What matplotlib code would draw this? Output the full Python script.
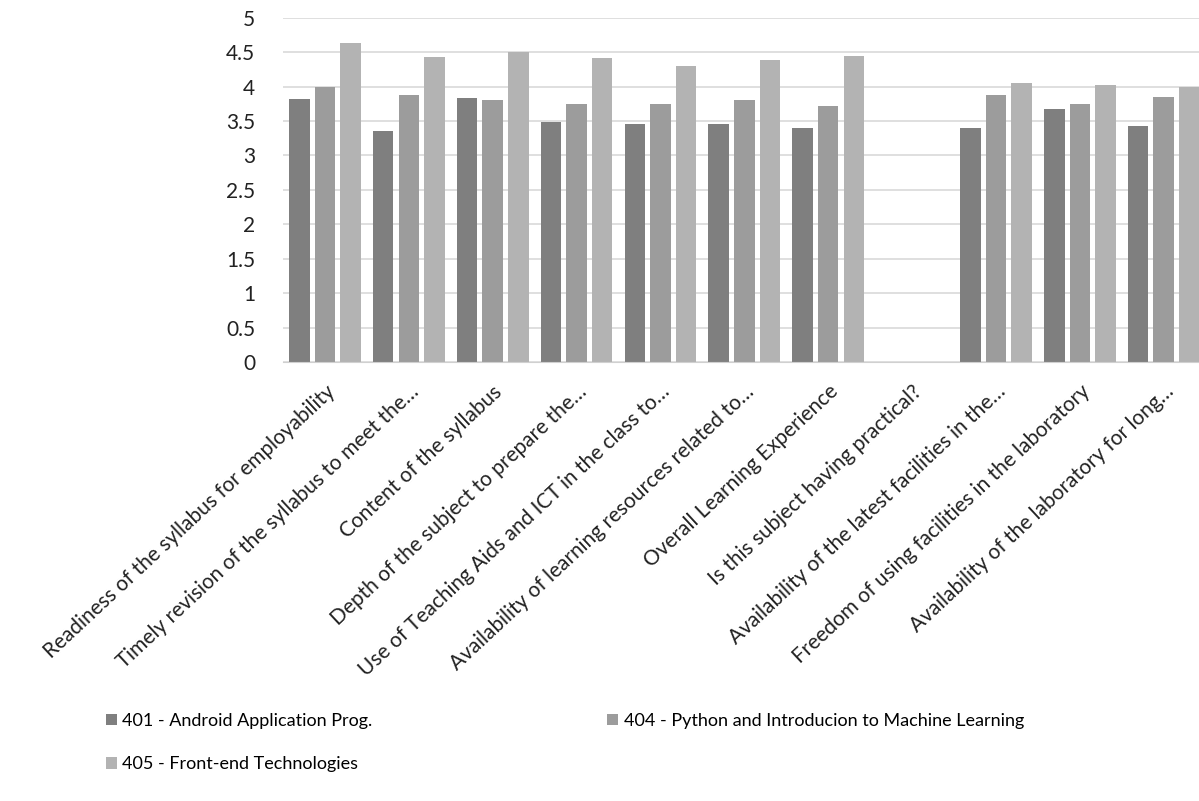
import numpy as np
import matplotlib.pyplot as plt

plt.rcParams['font.family'] = ['Lato', 'DejaVu Sans']

categories = [
    'Readiness of the syllabus for employability',
    'Timely revision of the syllabus to meet the…',
    'Content of the syllabus',
    'Depth of the subject to prepare the…',
    'Use of Teaching Aids and ICT in the class to…',
    'Availability of learning resources related to…',
    'Overall Learning Experience',
    'Is this subject having practical?',
    'Availability of the latest facilities in the…',
    'Freedom of using facilities in the laboratory',
    'Availability of the laboratory for long…',
]
series_names = [
    '401 - Android Application Prog.',
    '404 - Python and Introducion to Machine Learning',
    '405 - Front-end Technologies',
]
s401 = [3.82, 3.35, 3.84, 3.48, 3.45, 3.45, 3.40, 0, 3.40, 3.68, 3.42]
s404 = [4.00, 3.88, 3.80, 3.75, 3.75, 3.80, 3.72, 0, 3.88, 3.75, 3.85]
s405 = [4.63, 4.43, 4.50, 4.42, 4.30, 4.38, 4.45, 0, 4.05, 4.02, 4.00]
yticks = [0, 0.5, 1, 1.5, 2, 2.5, 3, 3.5, 4, 4.5, 5]

colors = ['#7f7f7f', '#9c9c9c', '#b3b3b3']

fig = plt.figure(figsize=(11.99, 8.01), dpi=100)
ax = fig.add_axes([0.236, 0.548, 0.764, 0.43])

x = np.arange(len(categories))
w = 0.245
bars = []
for k, vals in enumerate([s401, s404, s405]):
    b = ax.bar(x + (k - 1) * 0.305, vals, w, color=colors[k], label=series_names[k], zorder=2)
    bars.append(b)

ax.set_ylim(0, 5)
ax.set_xlim(-0.5, 10.42)
ax.set_yticks(yticks)
ax.set_yticklabels([f'{t:g}' for t in yticks], fontsize=15, color='#222222')
ax.yaxis.grid(True, color='#d9d9d9', linewidth=1.2, zorder=0)
ax.tick_params(length=0)
ax.tick_params(axis='y', pad=20)
for s in ['top', 'right', 'left']:
    ax.spines[s].set_visible(False)
ax.spines['bottom'].set_color('#d0d0d0')

ax.set_xticks(x)
ax.set_xticklabels(categories, rotation=43, ha='right', rotation_mode='anchor',
                   fontsize=15, color='#222222')
ax.tick_params(axis='x', pad=14)

handles = [bars[0], bars[2], bars[1]]
labels = [series_names[0], series_names[2], series_names[1]]
fig.legend(handles, labels, ncol=2, loc='upper left', bbox_to_anchor=(0.075, 0.13),
           frameon=False, fontsize=13, handlelength=0.6, handleheight=0.6,
           handletextpad=0.3, labelspacing=1.5, columnspacing=13)

fig.savefig('out.png', dpi=100, facecolor='white')
